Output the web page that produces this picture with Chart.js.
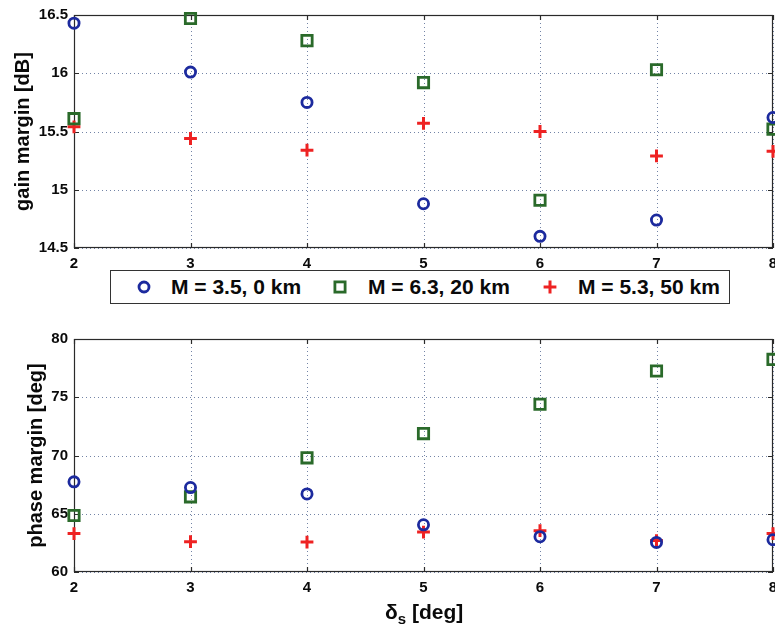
<!DOCTYPE html>
<html>
<head>
<meta charset="utf-8">
<script src="https://cdn.jsdelivr.net/npm/chart.js@4.4.1/dist/chart.umd.min.js"></script>
<style>
  html, body { margin: 0; padding: 0; background: #fff; overflow: hidden; }
  body { width: 775px; height: 628px; position: relative; font-family: "Liberation Sans", Arial, sans-serif; }
  .plot { position: absolute; left: 0; }
  #legend { position: absolute; left: 110px; top: 270px; width: 620px; height: 34px;
            border: 1px solid #333; background: #fff; box-sizing: border-box; }
  .item { position: absolute; top: 0; height: 100%; display: flex; align-items: center;
          font-weight: bold; font-size: 21px; color: #0a0a0a; white-space: nowrap; }
  .mk { position: absolute; top: 50%; transform: translate(-50%, -50%); }
  #xtitle { position: absolute; left: 385px; top: 600px; font-weight: bold; font-size: 21px; color: #0a0a0a; white-space: nowrap; }
  #xtitle sub { font-size: 15px; vertical-align: -5px; }
</style>
</head>
<body>
<div class="plot" style="top:0;width:800px;height:300px;"><canvas id="gain"></canvas></div>
<div class="plot" style="top:320px;width:800px;height:308px;"><canvas id="phase"></canvas></div>
<div id="legend"></div>
<div id="xtitle">δ<sub>s</sub> [deg]</div>
<script>
// steering angle samples (x axis)
const deltaS = [2, 3, 4, 5, 6, 7, 8];

// scenario names
const seriesNames = ['M = 3.5, 0 km', 'M = 6.3, 20 km', 'M = 5.3, 50 km'];

// gain margin [dB]
const gainM35 = [16.43, 16.01, 15.75, 14.88, 14.60, 14.74, 15.62];
const gainM63 = [15.61, 16.47, 16.28, 15.92, 14.91, 16.03, 15.52];
const gainM53 = [15.54, 15.44, 15.34, 15.57, 15.50, 15.29, 15.33];

// phase margin [deg]
const phaseM35 = [67.74, 67.25, 66.70, 64.05, 63.03, 62.54, 62.77];
const phaseM63 = [64.85, 66.45, 69.80, 71.88, 74.40, 77.25, 78.25];
const phaseM53 = [63.30, 62.60, 62.57, 63.43, 63.55, 62.70, 63.30];

const BLUE = '#1c2a9e';
const GREEN = '#2a6a2a';
const RED = '#ee2222';
const FONT = '"Liberation Sans", Arial, sans-serif';
const GRID = 'rgba(90,110,150,0.85)';

const styles = [
  { color: BLUE, pointStyle: 'circle', radius: 5.1, width: 2.8 },
  { color: GREEN, pointStyle: 'rect', radius: 7.3, width: 2.8 },
  { color: RED, pointStyle: 'cross', radius: 6.4, width: 3 }
];

function makeDatasets(seriesList) {
  return seriesList.map((vals, i) => ({
    label: seriesNames[i],
    data: deltaS.map((x, k) => ({ x: x, y: vals[k] })),
    showLine: false,
    pointStyle: styles[i].pointStyle,
    pointRadius: styles[i].radius,
    pointBorderWidth: styles[i].width,
    borderColor: styles[i].color,
    pointBorderColor: styles[i].color,
    pointBackgroundColor: 'rgba(0,0,0,0)',
    clip: false
  }));
}

// dotted grid, axes box and inward tick marks
const framePlugin = {
  id: 'frame',
  beforeDatasetsDraw(chart) {
    const { ctx, chartArea: a, scales } = chart;
    const xs = scales.x.ticks.map(t => Math.round(scales.x.getPixelForValue(t.value)) + 0.5);
    const ys = scales.y.ticks.map(t => Math.round(scales.y.getPixelForValue(t.value)) + 0.5);
    ctx.save();
    ctx.strokeStyle = GRID;
    ctx.lineWidth = 1;
    ctx.setLineDash([1, 3]);
    ctx.beginPath();
    xs.forEach(px => { ctx.moveTo(px, a.top); ctx.lineTo(px, a.bottom); });
    ys.forEach(py => { ctx.moveTo(a.left, py); ctx.lineTo(a.right, py); });
    ctx.stroke();
    ctx.setLineDash([]);
    ctx.strokeStyle = '#2a2a2a';
    ctx.lineWidth = 1.2;
    ctx.strokeRect(a.left + 0.5, a.top + 0.5, a.right - a.left - 1, a.bottom - a.top - 1);
    const L = 5;
    ctx.beginPath();
    xs.forEach(px => {
      ctx.moveTo(px, a.bottom); ctx.lineTo(px, a.bottom - L);
      ctx.moveTo(px, a.top); ctx.lineTo(px, a.top + L);
    });
    ys.forEach(py => {
      ctx.moveTo(a.left, py); ctx.lineTo(a.left + L, py);
      ctx.moveTo(a.right, py); ctx.lineTo(a.right - L, py);
    });
    ctx.stroke();
    ctx.restore();
  }
};

function makeChart(id, seriesList, yMin, yMax, yStep, yTitle, topPad, xHeight, titlePad) {
  return new Chart(document.getElementById(id), {
    type: 'scatter',
    data: { datasets: makeDatasets(seriesList) },
    options: {
      responsive: true,
      maintainAspectRatio: false,
      animation: false,
      layout: { padding: { top: topPad, right: 27, left: 0, bottom: 0 } },
      plugins: { legend: { display: false }, tooltip: { enabled: false } },
      scales: {
        x: {
          type: 'linear', min: 2, max: 8,
          ticks: { stepSize: 1, padding: 7, color: '#0a0a0a', font: { family: FONT, size: 15, weight: 'bold' } },
          grid: { display: false, drawTicks: false, tickLength: 0 },
          border: { display: false },
          afterFit(s) { s.height = xHeight; }
        },
        y: {
          min: yMin, max: yMax,
          ticks: { stepSize: yStep, padding: 6, color: '#0a0a0a', font: { family: FONT, size: 15, weight: 'bold' },
                   callback: v => String(v) },
          grid: { display: false, drawTicks: false, tickLength: 0 },
          border: { display: false },
          title: { display: true, text: yTitle, color: '#0a0a0a', padding: { top: titlePad, bottom: 0 },
                   font: { family: FONT, size: 20, weight: 'bold' } },
          afterFit(s) { s.width = 74; }
        }
      }
    },
    plugins: [framePlugin]
  });
}

const gainChart = makeChart('gain', [gainM35, gainM63, gainM53], 14.5, 16.5, 0.5,
  'gain margin [dB]', 15, 52, 11);
const phaseChart = makeChart('phase', [phaseM35, phaseM63, phaseM53], 60, 80, 5,
  'phase margin [deg]', 19, 56, 24);

// legend box between the two panels
const legend = document.getElementById('legend');
const markerX = [33, 229, 439];
const textX = [60, 257, 467];
const markerSvg = [
  `<svg width="16" height="16"><circle cx="8" cy="8" r="5" fill="none" stroke="${BLUE}" stroke-width="2.8"/></svg>`,
  `<svg width="16" height="16"><rect x="2.9" y="2.9" width="10.2" height="10.2" fill="none" stroke="${GREEN}" stroke-width="2.8"/></svg>`,
  `<svg width="16" height="16"><path d="M8 1.6V14.4M1.6 8H14.4" stroke="${RED}" stroke-width="3"/></svg>`
];
seriesNames.forEach((name, i) => {
  const m = document.createElement('div');
  m.className = 'mk';
  m.style.left = markerX[i] + 'px';
  m.style.lineHeight = '0';
  m.innerHTML = markerSvg[i];
  legend.appendChild(m);
  const t = document.createElement('div');
  t.className = 'item';
  t.style.left = textX[i] + 'px';
  t.textContent = name;
  legend.appendChild(t);
});
</script>
</body>
</html>
